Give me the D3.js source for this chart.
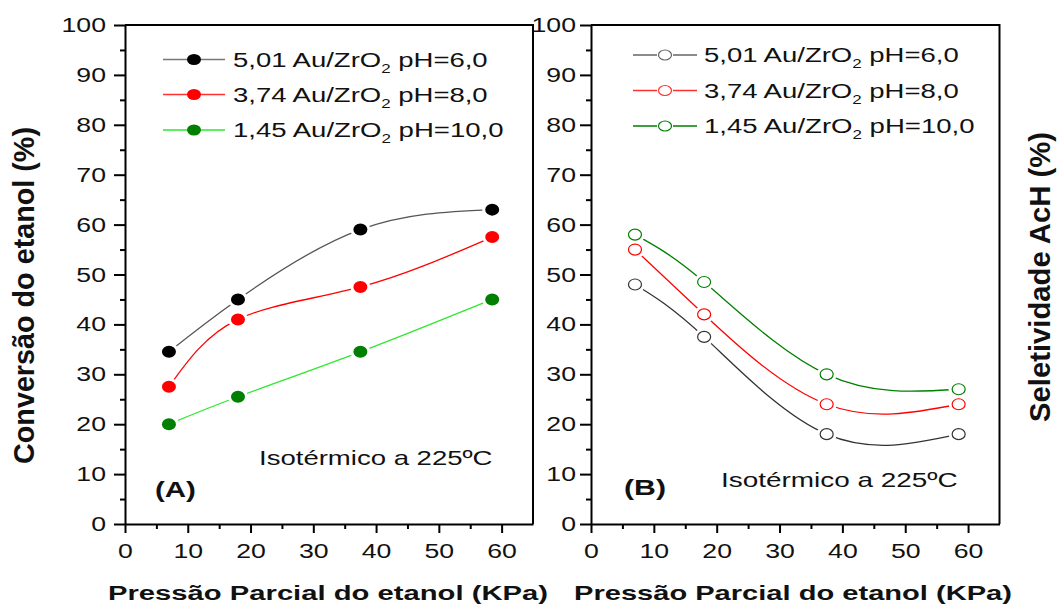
<!DOCTYPE html>
<html>
<head>
<meta charset="utf-8">
<script src="https://cdn.jsdelivr.net/npm/d3@7"></script>
<style>
  body { margin: 0; background: #fff; }
  svg { display: block; font-family: "Liberation Sans", Arial, sans-serif; }
</style>
</head>
<body>
<svg id="chart" width="1058" height="605"></svg>
<script>
// data
const pressure = [7, 18, 37.5, 58.5];

const conv501 = [34.5, 45, 59, 63];
const conv374 = [27.5, 41, 47.5, 57.5];
const conv145 = [20, 25.5, 34.5, 45];

const sel501 = [48, 37.5, 18, 18];
const sel374 = [55, 42, 24, 24];
const sel145 = [58, 48.5, 30, 27];

const seriesLabels = ["5,01 Au/ZrO", "3,74 Au/ZrO", "1,45 Au/ZrO"];
const seriesPH = [" pH=6,0", " pH=8,0", " pH=10,0"];

const xTicks = [0, 10, 20, 30, 40, 50, 60];
const xMinor = [5, 15, 25, 35, 45, 55];
const yTicks = [0, 10, 20, 30, 40, 50, 60, 70, 80, 90, 100];
const yMinor = [5, 15, 25, 35, 45, 55, 65, 75, 85, 95];

const xTitle = "Pressão Parcial do etanol (KPa)";
const yTitleA = "Conversão do etanol (%)";
const yTitleB = "Seletividade AcH (%)";
const noteText = "Isotérmico a 225ºC";

const svg = d3.select("#chart");
const defs = svg.append("defs");
const W = 1058, H = 605;

const y = d3.scaleLinear().domain([0, 100]).range([524, 25]);

// stretch a horizontal text element so it takes the given width (fonts in the figure run wide)
function fitWidth(sel, width) {
  const node = sel.node();
  const bb = node.getBBox();
  const k = width / bb.width;
  const anchor = sel.attr("text-anchor") === "middle" ? bb.x + bb.width / 2 : bb.x;
  sel.attr("transform", `translate(${anchor},0) scale(${k},1) translate(${-anchor},0)`);
}

function widen(sel, k) {
  sel.each(function () {
    const t = d3.select(this);
    const ax = +t.attr("x") || 0;
    t.attr("transform", `translate(${ax},0) scale(${k},1) translate(${-ax},0)`);
  });
}

const panels = [
  {
    id: "A", left: 125, right: 533, labelPad: 8,
    series: [conv501, conv374, conv145],
    lineColors: ["#555", "#ff0000", "#2ee82e"],
    markColors: ["#000", "#ff0000", "#008000"],
    legendLine: ["#777", "#ff3030", "#2ee82e"],
    filled: true,
    legend: { mx: 194, lx0: 163, lx1: 225, tx: 233, rows: [59.5, 94.5, 130], widths: [255, 255, 271], gap: 0 },
    tag: { text: "(A)", x: 155, y: 497, w: 41 },
    note: { x: 259, y: 465, w: 234 },
    xlab: { x: 108, w: 440 },
    ylab: { x: 34, cy: 295.5, len: 337, text: yTitleA }
  },
  {
    id: "B", left: 591, right: 999.5, labelPad: 4,
    series: [sel501, sel374, sel145],
    lineColors: ["#333", "#ff0000", "#008000"],
    markColors: ["#333", "#ff0000", "#008000"],
    legendLine: ["#666", "#ff3030", "#008000"],
    filled: false,
    legend: { mx: 665, lx0: 633, lx1: 697, tx: 704, rows: [55, 90.5, 126], widths: [255, 255, 271], gap: 8 },
    tag: { text: "(B)", x: 624, y: 495, w: 42 },
    note: { x: 721, y: 487, w: 237 },
    xlab: { x: 574, w: 438 },
    ylab: { x: 1050, cy: 277, len: 290, text: yTitleB }
  }
];

panels.forEach(p => {
  const x = d3.scaleLinear().domain([0, 65]).range([p.left, p.right]);
  const g = svg.append("g").attr("class", "panel-" + p.id);

  // frame: top and right
  g.append("path")
    .attr("d", `M${p.left},${y(100)}H${p.right}V${y(0)}`)
    .attr("fill", "none").attr("stroke", "#000").attr("stroke-width", 2);

  // axes
  const gy = g.append("g").attr("transform", `translate(${p.left},0)`);
  gy.call(d3.axisLeft(y).tickValues(yMinor).tickSize(5).tickFormat("").tickSizeOuter(0))
    .select(".domain").remove();
  const gy2 = g.append("g").attr("transform", `translate(${p.left},0)`)
    .call(d3.axisLeft(y).tickValues(yTicks).tickSize(11).tickPadding(p.labelPad).tickSizeOuter(0));

  const gx = g.append("g").attr("transform", `translate(0,${y(0)})`);
  gx.call(d3.axisBottom(x).tickValues(xMinor).tickSize(5).tickFormat("").tickSizeOuter(0))
    .select(".domain").remove();
  const gx2 = g.append("g").attr("transform", `translate(0,${y(0)})`)
    .call(d3.axisBottom(x).tickValues(xTicks).tickSize(9).tickPadding(10).tickSizeOuter(0));

  g.selectAll(".domain, .tick line").attr("stroke", "#000").attr("stroke-width", 2);
  g.selectAll(".tick text")
    .attr("font-size", 20.5).attr("fill", "#111")
    .attr("font-family", "'Liberation Sans', Arial, sans-serif");
  widen(gy2.selectAll(".tick text"), 1.3);
  widen(gx2.selectAll(".tick text"), 1.3);

  // series lines, cut short around the markers
  const line = d3.line()
    .x((d, i) => x(pressure[i]))
    .y(d => y(d))
    .curve(d3.curveNatural);

  p.series.forEach((vals, si) => {
    const mid = `mask-${p.id}-${si}`;
    const m = defs.append("mask").attr("id", mid)
      .attr("maskUnits", "userSpaceOnUse")
      .attr("x", 0).attr("y", 0).attr("width", W).attr("height", H);
    m.append("rect").attr("width", W).attr("height", H).attr("fill", "#fff");
    m.selectAll("ellipse").data(vals).join("ellipse")
      .attr("cx", (d, i) => x(pressure[i])).attr("cy", d => y(d))
      .attr("rx", 10).attr("ry", 9).attr("fill", "#000");

    g.append("path")
      .datum(vals)
      .attr("d", line)
      .attr("fill", "none")
      .attr("stroke", p.lineColors[si])
      .attr("stroke-width", 1.3)
      .attr("mask", `url(#${mid})`);

    g.selectAll(null).data(vals).join("ellipse")
      .attr("cx", (d, i) => x(pressure[i])).attr("cy", d => y(d))
      .attr("rx", p.filled ? 7 : 6.5).attr("ry", p.filled ? 6 : 5.5)
      .attr("fill", p.filled ? p.markColors[si] : "none")
      .attr("stroke", p.filled ? "none" : p.markColors[si])
      .attr("stroke-width", 1.2);
  });

  // legend
  const L = p.legend;
  seriesLabels.forEach((lab, si) => {
    const cy = L.rows[si];
    if (L.gap > 0) {
      g.append("path")
        .attr("d", `M${L.lx0},${cy}H${L.mx - L.gap}M${L.mx + L.gap},${cy}H${L.lx1}`)
        .attr("stroke", p.legendLine[si]).attr("stroke-width", 1.5);
    } else {
      g.append("path").attr("d", `M${L.lx0},${cy}H${L.lx1}`)
        .attr("stroke", p.legendLine[si]).attr("stroke-width", 1.5);
    }
    g.append("ellipse")
      .attr("cx", L.mx).attr("cy", cy)
      .attr("rx", p.filled ? 7 : 6.5).attr("ry", p.filled ? 5.5 : 5)
      .attr("fill", p.filled ? p.markColors[si] : "#fff")
      .attr("stroke", p.filled ? "none" : p.legendLine[si])
      .attr("stroke-width", 1.2);

    const t = g.append("text")
      .attr("x", L.tx).attr("y", cy + 7.5)
      .attr("font-size", 19.5).attr("fill", "#111");
    t.append("tspan").text(lab);
    t.append("tspan").attr("font-size", 12).attr("dy", 6).text("2");
    t.append("tspan").attr("dy", -6).text(seriesPH[si]);
    fitWidth(t, L.widths[si]);
  });

  // panel tag and note
  const tag = g.append("text").attr("x", p.tag.x).attr("y", p.tag.y)
    .attr("font-size", 22).attr("font-weight", "bold").attr("fill", "#111")
    .text(p.tag.text);
  fitWidth(tag, p.tag.w);

  const note = g.append("text").attr("x", p.note.x).attr("y", p.note.y)
    .attr("font-size", 20.5).attr("fill", "#111")
    .text(noteText);
  fitWidth(note, p.note.w);

  // axis titles
  const xl = g.append("text").attr("x", p.xlab.x).attr("y", 600)
    .attr("font-size", 21).attr("font-weight", "bold").attr("fill", "#111")
    .text(xTitle);
  fitWidth(xl, p.xlab.w);

  g.append("text")
    .attr("transform", `translate(${p.ylab.x},${p.ylab.cy}) rotate(-90)`)
    .attr("text-anchor", "middle")
    .attr("font-size", 28.6).attr("font-weight", "bold").attr("fill", "#111")
    .attr("textLength", p.ylab.len).attr("lengthAdjust", "spacingAndGlyphs")
    .text(p.ylab.text);
});
</script>
</body>
</html>
